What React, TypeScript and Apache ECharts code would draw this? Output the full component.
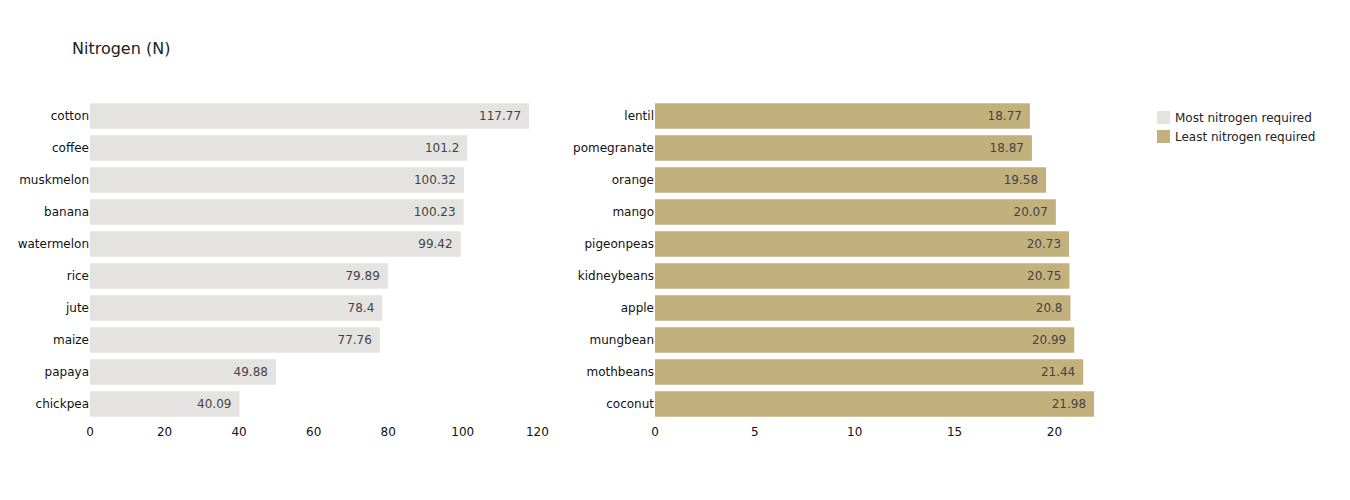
import { useEffect, useRef } from "react";
import * as echarts from "echarts";

const mostCrops = ["cotton", "coffee", "muskmelon", "banana", "watermelon", "rice", "jute", "maize", "papaya", "chickpea"];
const mostValues = [117.77, 101.2, 100.32, 100.23, 99.42, 79.89, 78.4, 77.76, 49.88, 40.09];
const leastCrops = ["lentil", "pomegranate", "orange", "mango", "pigeonpeas", "kidneybeans", "apple", "mungbean", "mothbeans", "coconut"];
const leastValues = [18.77, 18.87, 19.58, 20.07, 20.73, 20.75, 20.8, 20.99, 21.44, 21.98];

const FONT = "DejaVu Sans, Verdana, sans-serif";

export default function App() {
  const ref = useRef<HTMLDivElement>(null);

  useEffect(() => {
    document.body.style.margin = "0";
    if (!ref.current) return;
    const chart = echarts.init(ref.current, null, { renderer: "svg" });

    const xAxisBase = {
      type: "value" as const,
      min: 0,
      axisLine: { show: false },
      axisTick: { show: false },
      splitLine: { show: false },
      axisLabel: { color: "#111", fontSize: 12, fontFamily: FONT, showMaxLabel: false, margin: 6 },
    };
    const yAxisBase = {
      type: "category" as const,
      inverse: true,
      axisLine: { show: false },
      axisTick: { show: false },
      axisLabel: { color: "#111", fontSize: 12, fontFamily: FONT, margin: 1 },
    };
    const label = {
      show: true,
      position: "insideRight" as const,
      color: "#444",
      fontSize: 12,
      fontFamily: FONT,
      distance: 8,
    };

    chart.setOption({
      animation: false,
      textStyle: { fontFamily: FONT },
      title: {
        text: "Nitrogen (N)",
        left: 67,
        top: 35,
        textStyle: { fontSize: 16, fontWeight: "normal", color: "#222", fontFamily: FONT },
      },
      legend: {
        orient: "vertical",
        left: 1152,
        top: 106,
        itemWidth: 13,
        itemHeight: 13,
        itemGap: 6,
        icon: "rect",
        textStyle: { color: "#222", fontSize: 12, fontFamily: FONT },
        data: ["Most nitrogen required", "Least nitrogen required"],
      },
      grid: [
        { left: 90, width: 461, top: 100, height: 320 },
        { left: 655, width: 461, top: 100, height: 320 },
      ],
      xAxis: [
        { ...xAxisBase, gridIndex: 0, max: 123.66, interval: 20 },
        { ...xAxisBase, gridIndex: 1, max: 23.08, interval: 5 },
      ],
      yAxis: [
        { ...yAxisBase, gridIndex: 0, data: mostCrops },
        { ...yAxisBase, gridIndex: 1, data: leastCrops },
      ],
      series: [
        {
          name: "Most nitrogen required",
          type: "bar",
          xAxisIndex: 0,
          yAxisIndex: 0,
          data: mostValues,
          barCategoryGap: "20%",
          itemStyle: { color: "#e4e3e1" },
          label,
        },
        {
          name: "Least nitrogen required",
          type: "bar",
          xAxisIndex: 1,
          yAxisIndex: 1,
          data: leastValues,
          barCategoryGap: "20%",
          itemStyle: { color: "#c3b17d" },
          label,
        },
      ],
    });

    return () => chart.dispose();
  }, []);

  return <div ref={ref} style={{ width: 1350, height: 500 }} />;
}
